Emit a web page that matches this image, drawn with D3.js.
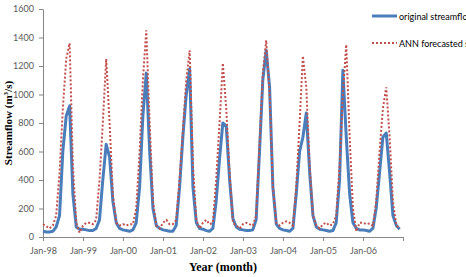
<!DOCTYPE html>
<meta charset="utf-8">
<html>
<head>
  <meta charset="utf-8">
  <title>streamflow</title>
</head>
<style>
  body { margin: 0; background: #fff; }
  .tick text { font-family: Lato, "Liberation Sans", sans-serif; font-size: 9px; fill: #595959; }
  .axis path, .axis line { stroke: #868686; }
  .title { font-family: "Liberation Serif", "DejaVu Serif", serif; font-weight: bold; font-size: 12px; fill: #000; }
  .legend text { font-family: Lato, "Liberation Sans", sans-serif; font-size: 9px; fill: #000; }
</style>
<body>
<svg width="466" height="277"></svg>
<script src="https://d3js.org/d3.v7.min.js"></script>
<script>

// monthly values Jan-98 .. Dec-06
var original = [
  40, 35, 35, 40, 70, 150, 600, 850, 920, 300, 70, 55,          // 1998
  55, 50, 45, 45, 60, 120, 400, 650, 560, 250, 100, 60,         // 1999
  50, 45, 40, 50, 100, 350, 850, 1150, 600, 200, 80, 60,        // 2000
  50, 45, 40, 40, 80, 350, 700, 1000, 1180, 350, 100, 60,       // 2001
  55, 45, 40, 60, 250, 550, 800, 780, 400, 130, 70, 55,         // 2002
  50, 45, 45, 50, 120, 600, 1100, 1310, 1050, 350, 90, 60,      // 2003
  50, 45, 40, 60, 300, 600, 700, 870, 450, 150, 70, 55,         // 2004
  50, 45, 40, 45, 100, 400, 1170, 700, 300, 100, 60, 50,        // 2005
  50, 45, 40, 60, 200, 450, 700, 730, 450, 150, 80, 55          // 2006
];

var forecast = [
  90, 75, 60, 80, 150, 450, 900, 1250, 1360, 500, 100, 30,      // 1998
  80, 100, 100, 90, 120, 400, 800, 1250, 800, 300, 100, 80,     // 1999
  90, 80, 90, 90, 200, 600, 1100, 1450, 800, 250, 80, 60,       // 2000
  100, 120, 90, 90, 120, 400, 750, 1100, 1310, 500, 120, 60,    // 2001
  100, 120, 90, 100, 400, 800, 1220, 900, 450, 100, 80, 60,     // 2002
  90, 100, 90, 80, 150, 650, 1150, 1380, 1000, 350, 100, 80,    // 2003
  100, 110, 100, 80, 350, 800, 1270, 1050, 500, 150, 80, 60,    // 2004
  90, 100, 80, 90, 150, 500, 1000, 1350, 700, 200, 40, 100,     // 2005
  100, 90, 95, 80, 250, 600, 900, 1050, 700, 250, 80, 60        // 2006
];

var yTicks = [0, 200, 400, 600, 800, 1000, 1200, 1400, 1600];
var seriesNames = ["original streamflow", "ANN forecasted streamflow"];

var svg = d3.select("svg");

var months = original.map(function(d, i) { return new Date(1998, i, 1); });

var x = d3.scaleTime()
    .domain([new Date(1998, 0, 1), new Date(2007, 0, 1)])
    .range([43, 403]);

var y = d3.scaleLinear()
    .domain([0, 1600])
    .range([237, 9]);

var fmt = d3.timeFormat("%b-%y");

// x axis
svg.append("g")
    .attr("class", "axis")
    .attr("transform", "translate(0,237)")
    .call(d3.axisBottom(x)
      .tickValues(d3.range(0, 10).map(function(k) { return new Date(1998 + k, 0, 1); }))
      .tickSize(4)
      .tickSizeOuter(0)
      .tickPadding(7)
      .tickFormat(function(d) { return d.getFullYear() < 2007 ? fmt(d) : ""; }));

// y axis
svg.append("g")
    .attr("class", "axis")
    .attr("transform", "translate(43,0)")
    .call(d3.axisLeft(y).tickValues(yTicks).tickSize(4).tickSizeOuter(0)
      .tickPadding(5).tickFormat(d3.format("d")));

var line = d3.line()
    .x(function(d, i) { return x(months[i]); })
    .y(function(d) { return y(d); });

svg.append("path")
    .datum(original)
    .attr("fill", "none")
    .attr("stroke", "#4a7ebb")
    .attr("stroke-width", 3)
    .attr("stroke-linejoin", "round")
    .attr("d", line);

svg.append("path")
    .datum(forecast)
    .attr("fill", "none")
    .attr("stroke", "#c0504d")
    .attr("stroke-width", 2)
    .attr("stroke-dasharray", "2,2")
    .attr("d", line);

// legend (runs off the right edge, as in the original)
var lg = svg.append("g").attr("class", "legend");
lg.append("line").attr("x1", 372).attr("x2", 397).attr("y1", 16).attr("y2", 16)
    .attr("stroke", "#4a7ebb").attr("stroke-width", 3);
lg.append("text").attr("x", 399).attr("y", 19.5).text(seriesNames[0]);
lg.append("line").attr("x1", 372).attr("x2", 397).attr("y1", 43).attr("y2", 43)
    .attr("stroke", "#c0504d").attr("stroke-width", 2).attr("stroke-dasharray", "2,2");
lg.append("text").attr("x", 399).attr("y", 46.5).text(seriesNames[1]);

// titles
svg.append("text").attr("class", "title")
    .attr("x", 223).attr("y", 271)
    .attr("text-anchor", "middle")
    .text("Year (month)");

var yt = svg.append("text").attr("class", "title")
    .attr("transform", "translate(12,123) rotate(-90)")
    .attr("text-anchor", "middle")
    .style("font-size", "11px");
yt.append("tspan").text("Streamflow  (m");
yt.append("tspan").attr("dy", -4).style("font-size", "7px").text("3");
yt.append("tspan").attr("dy", 4).text("/s)");

</script>
</body>
</html>
